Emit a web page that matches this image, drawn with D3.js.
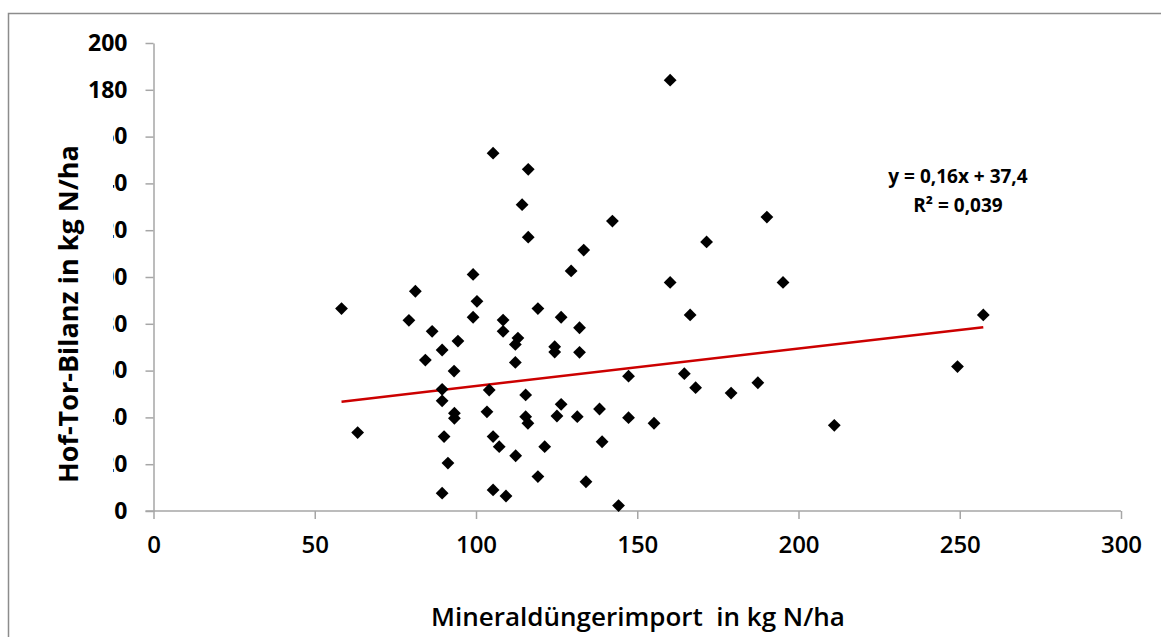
<!DOCTYPE html>
<html>
<head>
<meta charset="utf-8">
<script src="https://cdn.jsdelivr.net/npm/d3@7"></script>
<style>
  html, body { margin: 0; padding: 0; background: #fff; }
  svg { display: block; }
</style>
</head>
<body>
<svg id="chart" width="1161" height="637"></svg>
<script>
// Mineral fertiliser import (kg N/ha) per farm
const importN = [
  58.3, 81.2, 99.1, 129.5, 160.2, 79.2, 99.1, 108.4, 108.4, 100.3,
  86.4, 119.2, 126.4, 132.1, 166.4, 94.4, 89.5, 84.3, 113.0, 112.2,
  124.4, 124.4, 132.1, 112.2, 93.2, 147.3, 164.6, 168.1, 89.5, 89.5,
  104.1, 115.4, 126.4, 93.3, 93.3, 103.4, 115.4, 116.1, 125.1, 131.4,
  138.3, 147.3, 155.2, 63.3, 90.1, 105.3, 107.2, 121.3, 139.1, 112.3,
  91.3, 119.2, 134.1, 89.5, 105.3, 109.3, 144.2, 105.3, 116.2, 114.3,
  116.2, 133.4, 160.2, 142.3, 190.2, 171.5, 195.2, 257.3, 179.1, 187.4,
  211.1, 249.3
];
// Farm-gate nitrogen balance (kg N/ha) for the same farms
const balanceN = [
  86.5, 93.9, 101.1, 102.6, 97.7, 81.5, 82.8, 81.6, 76.8, 89.6,
  76.8, 86.5, 82.8, 78.3, 83.8, 72.6, 68.8, 64.5, 73.9, 71.2,
  70.2, 67.9, 67.8, 63.5, 59.8, 57.6, 58.7, 52.7, 52.0, 47.1,
  51.7, 49.6, 45.6, 41.8, 39.6, 42.4, 40.3, 37.5, 40.6, 40.3,
  43.6, 39.9, 37.5, 33.5, 31.8, 31.8, 27.5, 27.5, 29.6, 23.6,
  20.5, 14.7, 12.5, 7.6, 9.0, 6.4, 2.3, 152.9, 146.0, 130.9,
  117.0, 111.5, 184.1, 123.9, 125.6, 115.0, 97.7, 83.8, 50.4, 54.8,
  36.6, 61.7
];

// Linear trend and its fit statistics
const trendSlope = 0.16;
const trendIntercept = 37.4;
const rSquared = 0.039;

const xTicks = [0, 50, 100, 150, 200, 250, 300];
const yTicks = [0, 20, 40, 60, 80, 100, 120, 140, 160, 180, 200];

const xTitle = "Mineraldüngerimport  in kg N/ha";
const yTitle = "Hof-Tor-Bilanz in kg N/ha";

const deNum = (v, digits) => v.toFixed(digits).replace(".", ",");

const svg = d3.select("#chart");
const FONT = "'Open Sans', 'Noto Sans', sans-serif";
const AXIS = "#a6a6a6";

// chart frame
svg.append("rect")
  .attr("x", 8.5).attr("y", 13.5)
  .attr("width", 1200).attr("height", 700)
  .attr("fill", "#fff")
  .attr("stroke", "#8c8c8c").attr("stroke-width", 1.5);

const x = d3.scaleLinear().domain([0, 300]).range([153.5, 1121]);
const y = d3.scaleLinear().domain([0, 200]).range([511, 43]);

// axes
const gx = svg.append("g")
  .attr("transform", `translate(0,${y(0)})`)
  .call(d3.axisBottom(x).tickValues(xTicks).tickSize(8).tickPadding(17).tickSizeOuter(0));
const gy = svg.append("g")
  .attr("transform", `translate(${x(0)},0)`)
  .call(d3.axisLeft(y).tickValues(yTicks).tickSize(8).tickPadding(18).tickSizeOuter(0));

[gx, gy].forEach(g => {
  g.select(".domain").attr("stroke", AXIS).attr("stroke-width", 1.5);
  g.selectAll(".tick line").attr("stroke", AXIS).attr("stroke-width", 1.5);
  g.selectAll(".tick text")
    .attr("fill", "#000")
    .style("font-family", FONT);
});
gx.selectAll(".tick text").style("font-weight", 600).style("font-size", "24px");
gy.selectAll(".tick text").style("font-weight", 700).style("font-size", "23px");
// extend x-axis line leftward to meet the y tick marks
gx.select(".domain").attr("d", `M${x(0) - 8},0H${x(300)}`);

// trend line over the observed range
const xMin = d3.min(importN), xMax = d3.max(importN);
svg.append("line")
  .attr("x1", x(xMin)).attr("y1", y(trendSlope * xMin + trendIntercept))
  .attr("x2", x(xMax)).attr("y2", y(trendSlope * xMax + trendIntercept))
  .attr("stroke", "#cc0000").attr("stroke-width", 2.5);

// data points as diamonds
const diamond = d3.symbol().type(d3.symbolSquare).size(82);
svg.append("g").selectAll("path")
  .data(importN.map((v, i) => [v, balanceN[i]]))
  .join("path")
  .attr("d", diamond)
  .attr("transform", d => `translate(${x(d[0])},${y(d[1])}) rotate(45)`)
  .attr("fill", "#000");

// trend equation
const eq = svg.append("text")
  .attr("x", 958).attr("text-anchor", "middle")
  .style("font-family", FONT).style("font-weight", 700).style("font-size", "19px")
  .attr("fill", "#000");
eq.append("tspan").attr("x", 958).attr("y", 183)
  .text(`y = ${deNum(trendSlope, 2)}x + ${deNum(trendIntercept, 1)}`);
eq.append("tspan").attr("x", 958).attr("y", 212)
  .text(`R² = ${deNum(rSquared, 3)}`);

// y title with its white box
svg.append("rect")
  .attr("x", 46).attr("y", 112).attr("width", 67).attr("height", 383)
  .attr("fill", "#fff");
svg.append("text")
  .attr("transform", `translate(78,${314}) rotate(-90)`)
  .attr("text-anchor", "middle")
  .style("font-family", FONT).style("font-weight", 700).style("font-size", "27px")
  .attr("fill", "#000")
  .text(yTitle);

// x title
svg.append("text")
  .attr("x", 638).attr("y", 626)
  .attr("text-anchor", "middle")
  .style("font-family", FONT).style("font-weight", 600).style("font-size", "26px")
  .style("white-space", "pre")
  .attr("fill", "#000")
  .text(xTitle);
</script>
</body>
</html>
